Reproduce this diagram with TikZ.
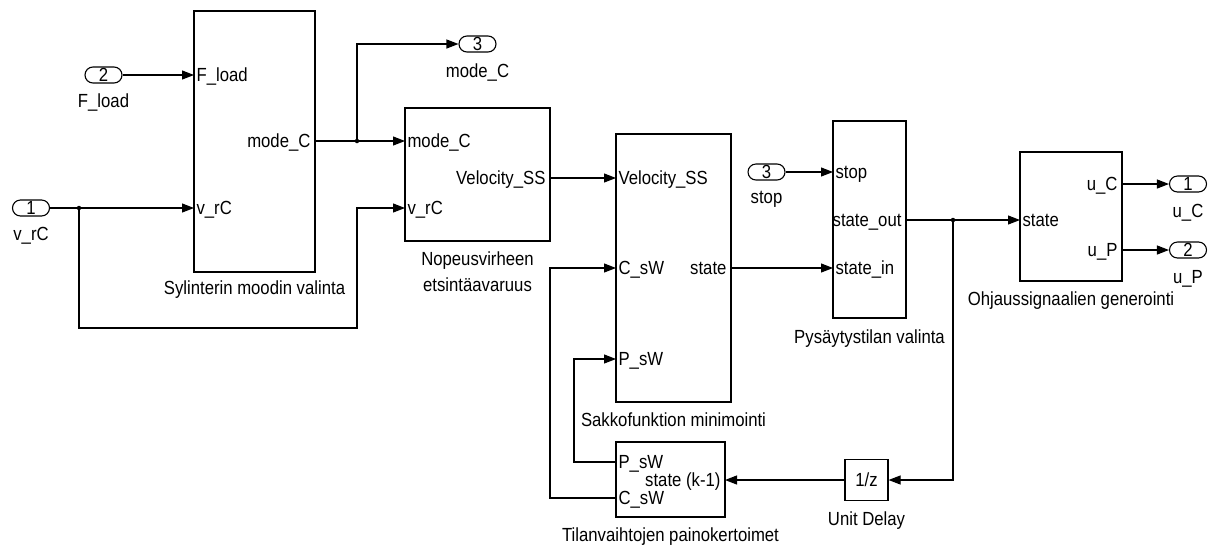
\documentclass[tikz,border=0pt]{standalone}
\usepackage{fontspec}
\setmainfont[FakeStretch=0.88]{Liberation Sans}
\usetikzlibrary{positioning, arrows.meta}

\begin{document}
\begin{tikzpicture}[
        x=1pt, y=-1pt,
        font=\fontsize{19}{26}\selectfont,
        line width=1.1pt,
        blk/.style={draw, inner sep=0pt},
        port/.style={draw, rounded corners=8pt, minimum width=37pt, minimum height=16pt, inner sep=0pt, text height=13.6pt, text depth=0pt},
        portname/.style={inner sep=0pt, text height=13.6pt, text depth=0pt},
        pl/.style={anchor=west, inner ysep=0pt, inner xsep=2pt, text height=13.6pt, text depth=0pt},
        pr/.style={anchor=east, inner ysep=0pt, inner xsep=4pt, text height=13.6pt, text depth=0pt},
        blkname/.style={inner sep=0pt, align=center},
        arr/.style={-{Triangle[length=12pt, width=9pt]}},
        jn/.style={circle, fill, inner sep=0pt, minimum size=4.5pt},
    ]
    \useasboundingbox (0,0) rectangle (1214,547);

    % ---- BLOCKS ----
    \node[blk, minimum width=121pt, minimum height=261pt] (syl) at (254.5,141.5) {};
    \node[blk, minimum width=145pt, minimum height=133pt] (nop) at (477.5,174.5) {};
    \node[blk, minimum width=115pt, minimum height=268pt] (sak) at (673.5,268) {};
    \node[blk, minimum width=109pt, minimum height=75pt] (til) at (670.5,479.5) {};
    \node[blk, minimum width=43pt, minimum height=41pt] (del) at (866.5,480) {1/z};
    \node[blk, minimum width=73pt, minimum height=197pt] (pys) at (869.5,219.5) {};
    \node[blk, minimum width=102pt, minimum height=129pt] (ohj) at (1071,216.5) {};

    \node[blkname, below=8pt of syl] (syl-name) {Sylinterin moodin valinta};
    \node[blkname, below=10pt of nop] (nop-name) {Nopeusvirheen\\etsintäavaruus};
    \node[blkname, below=10pt of sak] (sak-name) {Sakkofunktion minimointi};
    \node[blkname, below=10pt of til] (til-name) {Tilanvaihtojen painokertoimet};
    \node[blkname, below=10pt of del] (del-name) {Unit Delay};
    \node[blkname, below=11pt of pys] (pys-name) {Pysäytystilan valinta};
    \node[blkname, below=10pt of ohj] (ohj-name) {Ohjaussignaalien generointi};

    % ---- INPORTS / OUTPORTS ----
    \node[port] (in2) at (103.5,75) {2};
    \node[portname, below=10pt of in2] (in2-name) {F\_load};
    \node[port] (in1) at (31,208) {1};
    \node[portname, below=10pt of in1] (in1-name) {v\_rC};
    \node[port] (in3) at (766.5,172) {3};
    \node[portname, below=8.5pt of in3] (in3-name) {stop};
    \node[port] (out3) at (477.5,44) {3};
    \node[portname, below=11pt of out3] (out3-name) {mode\_C};
    \node[port] (out1) at (1188,184) {1};
    \node[portname, below=10.5pt of out1] (out1-name) {u\_C};
    \node[port] (out2) at (1188,250) {2};
    \node[portname, below=11pt of out2] (out2-name) {u\_P};

    % ---- PORT LABELS ----
    \node[pl] (syl-f) at (194,75) {F\_load};
    \node[pl] (syl-v) at (194,208) {v\_rC};
    \node[pr] (syl-m) at (315,141) {mode\_C};
    \node[pl] (nop-m) at (405,141) {mode\_C};
    \node[pl] (nop-v) at (405,208) {v\_rC};
    \node[pr] (nop-s) at (550,178) {Velocity\_SS};
    \node[pl] (sak-s) at (616,178) {Velocity\_SS};
    \node[pl] (sak-c) at (616,268) {C\_sW};
    \node[pl] (sak-p) at (616,359) {P\_sW};
    \node[pr] (sak-o) at (731,268) {state};
    \node[pl] (til-p) at (616,462) {P\_sW};
    \node[pl] (til-c) at (616,498) {C\_sW};
    \node[pr] (til-k) at (725,480) {state (k-1)};
    \node[pl] (pys-s) at (833,172) {stop};
    \node[pl] (pys-i) at (833,268) {state\_in};
    \node[pr] (pys-o) at (906,220) {state\_out};
    \node[pl] (ohj-s) at (1020,220) {state};
    \node[pr] (ohj-c) at (1122,184) {u\_C};
    \node[pr] (ohj-p) at (1122,250) {u\_P};

    % ---- SIGNALS ----
    \draw[arr] (in2) -- (syl-f.west);
    \draw[arr] (in1) -- (syl-v.west);
    \node[jn] (j1) at (79,208) {};
    \draw[arr] (j1.center) -- ++(0,120) -| ([xshift=-48pt]nop-v.west) -- (nop-v.west);

    \draw[arr] (syl-m.east) -- (nop-m.west);
    \node[jn] (j2) at (357,141) {};
    \draw[arr] (j2.center) |- (out3);

    \draw[arr] (nop-s.east) -- (sak-s.west);
    \draw[arr] (sak-o.east) -- (pys-i.west);
    \draw[arr] (in3) -- (pys-s.west);

    \draw[arr] (pys-o.east) -- (ohj-s.west);
    \node[jn] (j3) at (953,220) {};
    \draw[arr] (j3.center) |- (del.east);
    \draw[arr] (del.west) -- (til-k.east);

    % ---- FEEDBACK WEIGHTS ----
    \draw[arr] (til-p.west) -- ++(-42,0) |- (sak-p.west);
    \draw[arr] (til-c.west) -- ++(-66,0) |- (sak-c.west);

    \draw[arr] (ohj-c.east) -- (out1);
    \draw[arr] (ohj-p.east) -- (out2);

    \end{tikzpicture}
\end{document}
